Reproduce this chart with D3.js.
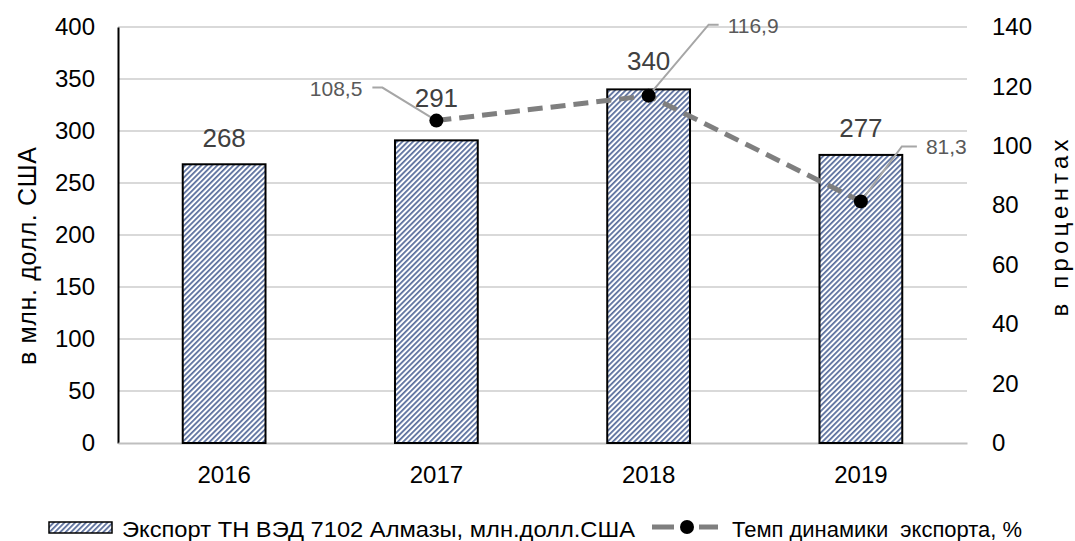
<!DOCTYPE html>
<html>
<head>
<meta charset="utf-8">
<script src="https://cdn.jsdelivr.net/npm/d3@7"></script>
<style>
  body { margin: 0; background: #fff; }
  text { font-family: "Liberation Sans", Arial, sans-serif; }
</style>
</head>
<body>
<div id="chart"></div>
<script>
const years = ["2016", "2017", "2018", "2019"];
const exportValues = [268, 291, 340, 277];
const growthRates = [null, 108.5, 116.9, 81.3];
const growthLabels = [null, "108,5", "116,9", "81,3"];
const leftTicks = [0, 50, 100, 150, 200, 250, 300, 350, 400];
const rightTicks = [0, 20, 40, 60, 80, 100, 120, 140];

const width = 1075;
const height = 541;
const margin = {top: 27, right: 108, bottom: 98, left: 118};
const font = "Liberation Sans, Arial, sans-serif";

const svg = d3.select("#chart").append("svg")
    .attr("width", width)
    .attr("height", height);

// hatch pattern for bars
const defs = svg.append("defs");
const pat = defs.append("pattern")
    .attr("id", "hatch")
    .attr("patternUnits", "userSpaceOnUse")
    .attr("width", 3.8)
    .attr("height", 3.8)
    .attr("patternTransform", "rotate(45)");
pat.append("rect").attr("width", 3.8).attr("height", 3.8).attr("fill", "#fff");
pat.append("line")
    .attr("x1", 0.9).attr("y1", 0).attr("x2", 0.9).attr("y2", 3.8)
    .attr("stroke", "#1f3b7a")
    .attr("stroke-width", 1.3);

const x = d3.scaleBand()
    .domain(years)
    .range([margin.left, width - margin.right])
    .paddingInner(0.61)
    .paddingOuter(0.305);

const yLeft = d3.scaleLinear().domain([0, 400]).range([height - margin.bottom, margin.top]);
const yRight = d3.scaleLinear().domain([0, 140]).range([height - margin.bottom, margin.top]);

// gridlines
svg.append("g")
    .selectAll("line")
    .data(leftTicks.slice(1))
    .join("line")
    .attr("x1", margin.left)
    .attr("x2", width - margin.right)
    .attr("y1", d => yLeft(d))
    .attr("y2", d => yLeft(d))
    .attr("stroke", "#d9d9d9")
    .attr("stroke-width", 2);

// left axis
const gLeft = svg.append("g")
    .attr("transform", `translate(${margin.left},0)`)
    .call(d3.axisLeft(yLeft).tickValues(leftTicks).tickSize(0).tickPadding(23));
gLeft.select(".domain").attr("stroke", "#000").attr("stroke-width", 2);
gLeft.selectAll("text").attr("font-size", 24).attr("fill", "#000").attr("font-family", font);

// right axis
const gRight = svg.append("g")
    .attr("transform", `translate(${width - margin.right},0)`)
    .call(d3.axisRight(yRight).tickValues(rightTicks).tickSize(0).tickPadding(25));
gRight.select(".domain").remove();
gRight.selectAll("text").attr("font-size", 24).attr("fill", "#000").attr("font-family", font);

// bottom axis
const gBottom = svg.append("g")
    .attr("transform", `translate(0,${height - margin.bottom})`)
    .call(d3.axisBottom(x).tickSize(0).tickPadding(23));
gBottom.select(".domain").attr("stroke", "#bfbfbf").attr("stroke-width", 2);
gBottom.selectAll("text").attr("font-size", 24).attr("fill", "#000").attr("font-family", font);

// axis titles
svg.append("text")
    .attr("transform", "translate(36,256) rotate(-90)")
    .attr("text-anchor", "middle")
    .attr("font-size", 25)
    .attr("textLength", 218)
    .attr("lengthAdjust", "spacing")
    .text("в млн. долл. США");

svg.append("text")
    .attr("transform", "translate(1068,228) rotate(-90)")
    .attr("text-anchor", "middle")
    .attr("font-size", 24)
    .attr("textLength", 177)
    .attr("lengthAdjust", "spacing")
    .text("в процентах");

// bars
svg.append("g")
    .selectAll("rect")
    .data(exportValues)
    .join("rect")
    .attr("x", (d, i) => x(years[i]))
    .attr("y", d => yLeft(d))
    .attr("width", x.bandwidth())
    .attr("height", d => yLeft(0) - yLeft(d))
    .attr("fill", "url(#hatch)")
    .attr("stroke", "#000")
    .attr("stroke-width", 2);

// bar labels (2017 label lifted above the marker, as in the source)
const labelLift = [17, 33, 19, 18];
svg.append("g")
    .selectAll("text")
    .data(exportValues)
    .join("text")
    .attr("x", (d, i) => x(years[i]) + x.bandwidth() / 2)
    .attr("y", (d, i) => yLeft(d) - labelLift[i])
    .attr("text-anchor", "middle")
    .attr("font-size", 26)
    .attr("fill", "#404040")
    .text(d => d);

// line
const pts = growthRates
    .map((v, i) => ({year: years[i], v: v, label: growthLabels[i]}))
    .filter(d => d.v !== null);

const line = d3.line()
    .x(d => x(d.year) + x.bandwidth() / 2)
    .y(d => yRight(d.v));

svg.append("path")
    .datum(pts)
    .attr("d", line)
    .attr("fill", "none")
    .attr("stroke", "#7f7f7f")
    .attr("stroke-width", 5)
    .attr("stroke-dasharray", "15,8");

// leader lines and labels
const labelPos = [
    {dx: -54, dy: -33, hx: -10},
    {dx: 60, dy: -71, hx: 10},
    {dx: 41, dy: -55, hx: 15}
];

pts.forEach((d, i) => {
    const cx = x(d.year) + x.bandwidth() / 2;
    const cy = yRight(d.v);
    const p = labelPos[i];
    const ex = cx + p.dx;
    const ey = cy + p.dy;
    svg.append("polyline")
        .attr("points", `${cx},${cy} ${ex},${ey} ${ex + p.hx},${ey}`)
        .attr("fill", "none")
        .attr("stroke", "#a6a6a6")
        .attr("stroke-width", 2);
    svg.append("text")
        .attr("x", ex + p.hx + (p.hx > 0 ? 9 : -10))
        .attr("y", ey + 8)
        .attr("text-anchor", p.hx > 0 ? "start" : "end")
        .attr("font-size", 21)
        .attr("fill", "#595959")
        .attr("font-family", font)
        .text(d.label);
});

// markers
svg.append("g")
    .selectAll("circle")
    .data(pts)
    .join("circle")
    .attr("cx", d => x(d.year) + x.bandwidth() / 2)
    .attr("cy", d => yRight(d.v))
    .attr("r", 7)
    .attr("fill", "#000");

// legend
const lg = svg.append("g");
lg.append("rect")
    .attr("x", 49).attr("y", 522)
    .attr("width", 63).attr("height", 11)
    .attr("fill", "url(#hatch)")
    .attr("stroke", "#000")
    .attr("stroke-width", 1.5);
lg.append("text")
    .attr("x", 122).attr("y", 537)
    .attr("font-size", 22)
    .attr("textLength", 513)
    .attr("lengthAdjust", "spacingAndGlyphs")
    .text("Экспорт ТН ВЭД 7102 Алмазы, млн.долл.США");
lg.append("line")
    .attr("x1", 652).attr("x2", 674)
    .attr("y1", 527).attr("y2", 527)
    .attr("stroke", "#7f7f7f")
    .attr("stroke-width", 5);
lg.append("line")
    .attr("x1", 699).attr("x2", 718)
    .attr("y1", 527).attr("y2", 527)
    .attr("stroke", "#7f7f7f")
    .attr("stroke-width", 5);
lg.append("circle")
    .attr("cx", 687).attr("cy", 527).attr("r", 7).attr("fill", "#000");
lg.append("text")
    .attr("x", 732).attr("y", 537)
    .attr("font-size", 22)
    .attr("textLength", 290)
    .attr("lengthAdjust", "spacingAndGlyphs")
    .style("white-space", "pre")
    .text("Темп динамики  экспорта, %");
</script>
</body>
</html>
